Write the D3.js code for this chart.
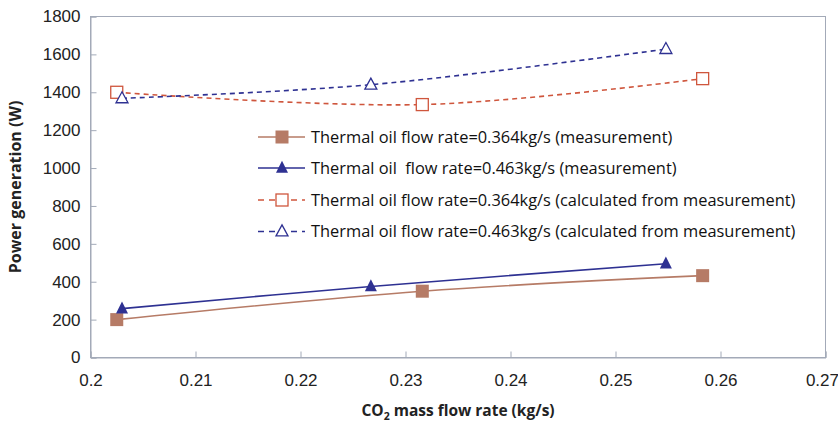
<!DOCTYPE html>
<html>
<head>
<meta charset="utf-8">
<script src="https://cdn.jsdelivr.net/npm/d3@7"></script>
<style>
  body { margin: 0; background: #fff; }
  svg { font-family: "Open Sans", "Liberation Sans", sans-serif; }
  .tick text { fill: #222; font-size: 17px; }
  .lg text { font-size: 16.4px; fill: #111; white-space: pre; }
</style>
</head>
<body>
<svg id="chart" width="838" height="429"></svg>
<script>
// readings
const X_OIL364_MEAS = [0.2025, 0.2316, 0.2583];
const Y_OIL364_MEAS = [200, 350, 432];
const X_OIL463_MEAS = [0.2030, 0.2267, 0.2548];
const Y_OIL463_MEAS = [258, 375, 495];
const X_OIL364_CALC = [0.2025, 0.2316, 0.2583];
const Y_OIL364_CALC = [1400, 1335, 1472];
const X_OIL463_CALC = [0.2030, 0.2267, 0.2548];
const Y_OIL463_CALC = [1368, 1440, 1628];
const X_TICKS = [0.2, 0.21, 0.22, 0.23, 0.24, 0.25, 0.26, 0.27];
const Y_TICKS = [0, 200, 400, 600, 800, 1000, 1200, 1400, 1600, 1800];
const LEGEND = [
  'Thermal oil flow rate=0.364kg/s (measurement)',
  'Thermal oil  flow rate=0.463kg/s (measurement)',
  'Thermal oil flow rate=0.364kg/s (calculated from measurement)',
  'Thermal oil flow rate=0.463kg/s (calculated from measurement)'
];

const BROWN = '#b67b66', NAVY = '#2e3192', RED = '#cf563d';
const series = [
  {xs: X_OIL364_MEAS, ys: Y_OIL364_MEAS, color: BROWN, dash: null, mark: 'sq', fill: true},
  {xs: X_OIL463_MEAS, ys: Y_OIL463_MEAS, color: NAVY, dash: null, mark: 'tri', fill: true},
  {xs: X_OIL364_CALC, ys: Y_OIL364_CALC, color: RED, dash: '5,4', mark: 'sq', fill: false},
  {xs: X_OIL463_CALC, ys: Y_OIL463_CALC, color: NAVY, dash: '5,4', mark: 'tri', fill: false}
];

const svg = d3.select('#chart');
const L = 90.5, R = 825.5, T = 16.5, B = 357.5;
const x = d3.scaleLinear().domain([0.2, 0.27]).range([L, R]);
const y = d3.scaleLinear().domain([0, 1800]).range([B, T]);

// plot frame
svg.append('rect').attr('x', L).attr('y', T).attr('width', R - L).attr('height', B - T)
  .attr('fill', 'none').attr('stroke', '#a3aab8').attr('stroke-width', 1);

const gx = svg.append('g').attr('transform', `translate(0,${B})`)
  .call(d3.axisBottom(x).tickValues(X_TICKS).tickSize(-6).tickPadding(16).tickFormat(d3.format('')));
const gy = svg.append('g').attr('transform', `translate(${L},0)`)
  .call(d3.axisLeft(y).tickValues(Y_TICKS).tickSize(-6).tickPadding(10).tickFormat(d3.format('d')));
[gx, gy].forEach(g => {
  g.select('.domain').attr('stroke', '#a3aab8');
  g.selectAll('.tick line').attr('stroke', '#a3aab8');
});
// last x label sits against the right edge of the picture
gx.selectAll('.tick text').filter(d => d === 0.27).attr('text-anchor', 'end').attr('x', 13);

svg.append('text').attr('x', 458).attr('y', 416).attr('text-anchor', 'middle')
  .attr('font-weight', 'bold').attr('font-size', 15.5).attr('fill', '#222')
  .html('CO<tspan font-size="10.5" dy="4">2</tspan><tspan dy="-4"> mass flow rate (kg/s)</tspan>');
svg.append('text').attr('transform', 'translate(21,187) rotate(-90)').attr('text-anchor', 'middle')
  .attr('font-weight', 'bold').attr('font-size', 16).attr('fill', '#222')
  .text('Power generation (W)');

function marker(g, s, cx, cy) {
  if (s.mark === 'sq') {
    const a = s.fill ? 13 : 12;
    g.append('rect').attr('x', cx - a / 2).attr('y', cy - a / 2).attr('width', a).attr('height', a)
      .attr('fill', s.fill ? s.color : '#fff').attr('stroke', s.color).attr('stroke-width', s.fill ? 0 : 1.3);
  } else {
    const w = 12, h = s.fill ? 12 : 11;
    g.append('path').attr('d', `M${cx},${cy - h * 0.6}L${cx + w / 2},${cy + h * 0.4}L${cx - w / 2},${cy + h * 0.4}Z`)
      .attr('fill', s.fill ? s.color : '#fff').attr('stroke', s.color).attr('stroke-width', s.fill ? 0 : 1.3);
  }
}

const line = d3.line().x(d => x(d[0])).y(d => y(d[1])).curve(d3.curveCatmullRom.alpha(0.5));
const gLines = svg.append('g'), gMarks = svg.append('g');
series.forEach(s => {
  const pts = s.xs.map((v, i) => [v, s.ys[i]]);
  gLines.append('path').attr('d', line(pts)).attr('fill', 'none')
    .attr('stroke', s.color).attr('stroke-width', 1.6).attr('stroke-dasharray', s.dash);
  pts.forEach(p => marker(gMarks, s, x(p[0]), y(p[1])));
});

// legend
const lg = svg.append('g').attr('class', 'lg');
const rowY = [137, 168, 200, 231.5];
series.forEach((s, i) => {
  const ry = rowY[i];
  lg.append('line').attr('x1', 258).attr('x2', 305).attr('y1', ry).attr('y2', ry)
    .attr('stroke', s.color).attr('stroke-width', 1.6).attr('stroke-dasharray', s.dash ? '6,5' : null);
  marker(lg, s, 282, ry);
  lg.append('text').attr('x', 311).attr('y', ry).attr('dy', '0.35em').text(LEGEND[i]);
});
</script>
</body>
</html>
